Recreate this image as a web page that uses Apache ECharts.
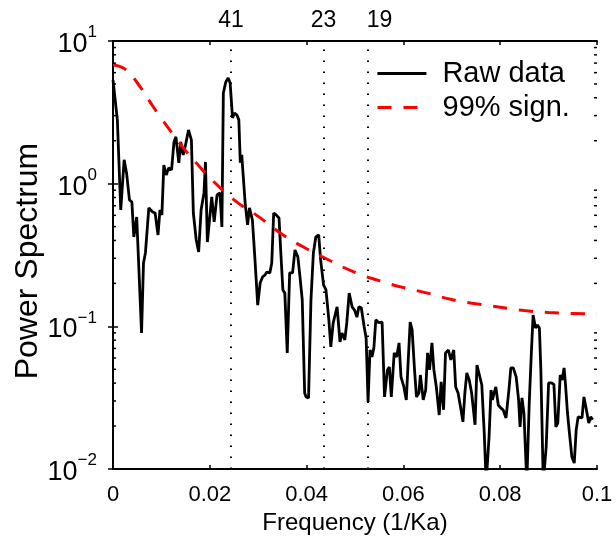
<!DOCTYPE html>
<html><head><meta charset="utf-8">
<script src="https://cdn.jsdelivr.net/npm/echarts@6/dist/echarts.min.js"></script>
<style>html,body{margin:0;padding:0;background:#fff}#c{width:616px;height:546px}</style>
</head><body><div id="c"></div>
<script>
const rawFreq = [0,0.0009,0.0016,0.0023,0.0028,0.0034,0.0039,0.0043,0.0049,0.0053,
0.0059,0.0063,0.0067,0.0074,0.0082,0.0087,0.0093,0.0097,0.0101,0.0105,
0.0110,0.0115,0.0121,0.0126,0.0130,0.0136,0.0140,0.0145,0.0149,0.0156,
0.0162,0.0166,0.0172,0.0177,0.0182,0.0188,0.0191,0.0195,0.0204,0.0209,
0.0215,0.0221,0.0225,0.0228,0.0233,0.0238,0.0242,0.0247,0.0251,0.0256,
0.0260,0.0263,0.0266,0.0270,0.0273,0.0278,0.0282,0.0288,0.0293,0.0299,
0.0304,0.0309,0.0314,0.0318,0.0324,0.0328,0.0332,0.0337,0.0343,0.0347,
0.0351,0.0355,0.0360,0.0365,0.0371,0.0376,0.0382,0.0387,0.0391,0.0396,
0.0399,0.0404,0.0409,0.0414,0.0419,0.0425,0.0429,0.0435,0.0440,0.0446,
0.0450,0.0455,0.0463,0.0469,0.0473,0.0479,0.0483,0.0488,0.0494,0.0499,
0.0504,0.0508,0.0513,0.0519,0.0523,0.0527,0.0531,0.0535,0.0539,0.0543,
0.0549,0.0556,0.0561,0.0567,0.0571,0.0575,0.0581,0.0586,0.0591,0.0595,
0.0601,0.0606,0.0610,0.0614,0.0618,0.0623,0.0627,0.0632,0.0635,0.0641,
0.0646,0.0650,0.0654,0.0659,0.0663,0.0668,0.0674,0.0678,0.0683,0.0687,
0.0693,0.0698,0.0704,0.0708,0.0713,0.0719,0.0723,0.0727,0.0731,0.0736,
0.0741,0.0748,0.0752,0.0756,0.0762,0.0767,0.0771,0.0777,0.0781,0.0784,
0.0788,0.0791,0.0796,0.0801,0.0806,0.0812,0.0818,0.0822,0.0827,0.0833,
0.0838,0.0841,0.0845,0.0849,0.0855,0.0860,0.0864,0.0868,0.0873,0.0877,
0.0881,0.0884,0.0889,0.0895,0.0900,0.0906,0.0911,0.0915,0.0919,0.0924,
0.0928,0.0932,0.0935,0.0939,0.0943,0.0948,0.0953,0.0957,0.0961,0.0965,
0.0969,0.0973,0.0977,0.0983,0.0987,0.0991];
const rawPower = [5.33,2.80,0.654,1.47,1.19,0.769,0.744,0.423,0.584,0.584,
0.0899,0.278,0.327,0.676,0.633,0.623,0.437,0.654,0.604,1.35,
1.15,1.29,1.25,1.96,2.13,1.40,1.96,1.59,1.81,2.38,
2.02,0.623,0.403,0.332,0.654,0.861,1.42,0.390,0.807,0.539,
0.833,0.861,0.497,4.32,5.16,5.50,5.08,2.89,3.13,3.03,
2.80,1.40,1.59,1.54,0.732,0.514,0.676,0.557,0.306,0.141,
0.201,0.222,0.229,0.240,0.237,0.278,0.623,0.604,0.575,0.316,
0.180,0.171,0.0651,0.237,0.237,0.343,0.306,0.211,0.153,0.0341,
0.0320,0.0315,0.153,0.327,0.423,0.437,0.292,0.195,0.180,0.111,
0.0717,0.106,0.137,0.0777,0.0899,0.0803,0.106,0.171,0.137,0.130,
0.116,0.137,0.135,0.0990,0.0829,0.0295,0.0683,0.0610,0.0706,0.111,
0.106,0.107,0.0320,0.0495,0.0519,0.0320,0.0651,0.0610,0.0765,0.0442,
0.0376,0.0305,0.0581,0.107,0.0944,0.0495,0.0320,0.0341,0.0456,0.0305,
0.0358,0.0651,0.0495,0.0765,0.0495,0.0376,0.0239,0.0408,0.0260,0.0651,
0.0683,0.0581,0.0683,0.0376,0.0341,0.0260,0.0214,0.0341,0.0471,0.0421,
0.0341,0.0204,0.0536,0.0471,0.0388,0.0179,0.008,0.0168,0.0358,0.0305,
0.0347,0.0376,0.0281,0.0268,0.0260,0.0228,0.0358,0.0511,0.0511,0.0442,
0.0305,0.0197,0.0315,0.0247,0.008,0.0290,0.0610,0.120,0.0974,0.102,
0.0974,0.0495,0.008,0.0143,0.0401,0.0401,0.0392,0.0197,0.0210,0.0456,
0.0421,0.0511,0.0388,0.0247,0.0179,0.0122,0.0110,0.0188,0.0232,0.0239,
0.0228,0.0320,0.0272,0.0210,0.0232,0.0221];
const sigFreq = [0,0.0025,0.005,0.0075,0.01,0.0125,0.015,0.0175,0.02,0.025,0.03,0.035,0.04,0.045,0.05,0.055,0.06,0.065,0.07,0.075,0.08,0.085,0.09,0.095,0.1];
const sigPower = [6.8,6.35,5.1,3.8,2.86,2.2,1.70,1.36,1.10,0.77,0.59,0.44,0.35,0.287,0.239,0.209,0.187,0.171,0.154,0.144,0.136,0.129,0.125,0.123,0.122];
const periodFreq = [0.0244,0.0435,0.0526];
const periodLabels = ['41','23','19'];
const periodLabelShift = [0,0,12];
const yTickExp = {'10':'1','1':'0','0.1':'\u22121','0.01':'\u22122'};
const minorTickValues = [0.02,0.03,0.04,0.05,0.06,0.07,0.08,0.09,0.2,0.3,0.4,0.5,0.6,0.7,0.8,0.9,2,3,4,5,6,7,8,9];
const seriesNames = ['Raw data','99% sign.'];

const FONT = 'Liberation Sans';
const chart = echarts.init(document.getElementById('c'), null, {renderer:'canvas'});
const axisLine = {show:true, lineStyle:{color:'#000', width:2}};
const legendBase = {left:376, orient:'vertical', padding:0, itemWidth:49, itemHeight:14,
  selectedMode:false, itemStyle:{opacity:0},
  textStyle:{fontFamily:FONT, fontSize:29, lineHeight:29, color:'#000', padding:[0,0,0,11]}};
const option = {
  backgroundColor:'#fff',
  animation:false,
  textStyle:{fontFamily:FONT},
  grid:{left:113, top:41, width:484, height:428, containLabel:false, outerBoundsMode:'none'},
  legend:[
    Object.assign({}, legendBase, {data:[seriesNames[0]], top:59, lineStyle:{width:2.8}}),
    Object.assign({}, legendBase, {data:[seriesNames[1]], top:93, lineStyle:{width:3}})
  ],
  xAxis:[
    {type:'value', min:0, max:0.1, interval:0.02, position:'bottom',
     name:'Frequency (1/Ka)', nameLocation:'middle', nameGap:42, nameMoveOverlap:false,
     nameTextStyle:{fontFamily:FONT, fontSize:24, color:'#000'},
     axisLine:axisLine, axisTick:{show:true, inside:true, length:4, lineStyle:{color:'#000', width:1.5}},
     axisLabel:{fontFamily:FONT, fontSize:22, color:'#000', margin:15}, splitLine:{show:false}},
    {type:'value', min:0, max:0.1, interval:0.02, position:'top',
     axisLine:axisLine, axisTick:{show:true, inside:true, length:4, lineStyle:{color:'#000', width:1.5}},
     axisLabel:{show:false}, splitLine:{show:false}}
  ],
  yAxis:[
    {type:'log', logBase:10, min:0.01, max:10, position:'left',
     name:'Power Spectrum', nameLocation:'middle', nameGap:69, nameRotate:90, nameMoveOverlap:false,
     nameTextStyle:{fontFamily:FONT, fontSize:32, color:'#000', padding:[0,12,0,0]},
     axisLine:axisLine, axisTick:{show:true, inside:true, length:5, lineStyle:{color:'#000', width:1.5}},
     axisLabel:{margin:16, formatter:function(v){const k=String(+v.toPrecision(3)); return '{b|10}{e|'+(yTickExp[k]||'')+'}';},
       rich:{b:{fontFamily:FONT, fontSize:27, color:'#000', verticalAlign:'bottom', lineHeight:34},
             e:{fontFamily:FONT, fontSize:17, color:'#000', verticalAlign:'top', lineHeight:20}}},
     splitLine:{show:false}},
    {type:'log', logBase:10, min:0.01, max:10, position:'right',
     axisLine:axisLine, axisTick:{show:true, inside:true, length:5, lineStyle:{color:'#000', width:1.5}},
     axisLabel:{show:false}, splitLine:{show:false}}
  ],
  series:[
    {name:seriesNames[0], type:'line', xAxisIndex:0, yAxisIndex:0, symbol:'none', clip:true,
     data:rawFreq.map((f,i)=>[f, rawPower[i]]),
     lineStyle:{color:'#000', width:2.8}, itemStyle:{color:'#000'}, z:3,
     markLine:{silent:true, symbol:'none', animation:false, precision:5,
       lineStyle:{color:'#000', type:[1.5,9.5], width:2},
       label:{show:true, position:'end', distance:9, fontFamily:FONT, fontSize:23, color:'#000'},
       data:periodFreq.map((f,i)=>({xAxis:f, label:{formatter:periodLabels[i], offset:[periodLabelShift[i],0]}}))}},
    {name:seriesNames[1], type:'line', xAxisIndex:0, yAxisIndex:0, symbol:'none', smooth:true, clip:true,
     data:sigFreq.map((f,i)=>[f, sigPower[i]]),
     lineStyle:{color:'#ff0000', width:3, type:[14,12]}, itemStyle:{color:'#ff0000'}, z:4},
    {name:'minorTicks', type:'custom', xAxisIndex:0, yAxisIndex:0, silent:true, z:6,
     data:minorTickValues.map(v=>[0, v]),
     renderItem:function(params, api){
       const v = api.value(1);
       const l = api.coord([0, v]);
       const r = api.coord([0.1, v]);
       return {type:'group', children:[
         {type:'line', shape:{x1:l[0], y1:l[1], x2:l[0]+3, y2:l[1]}, style:{stroke:'#000', lineWidth:1.5}},
         {type:'line', shape:{x1:r[0]-3, y1:r[1], x2:r[0], y2:r[1]}, style:{stroke:'#000', lineWidth:1.5}}
       ]};
     }}
  ]
};
chart.setOption(option);
</script></body></html>
